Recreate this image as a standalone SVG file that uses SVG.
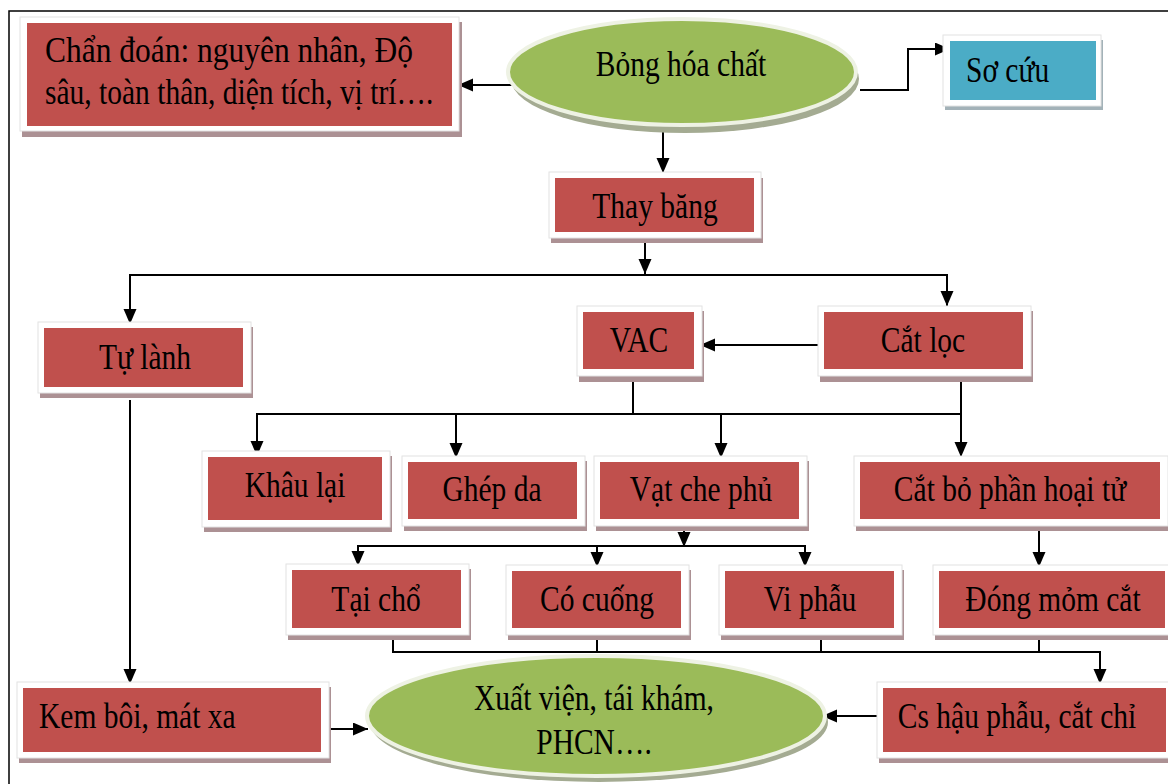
<svg xmlns="http://www.w3.org/2000/svg" width="1168" height="784" viewBox="0 0 1168 784">
<style>
.t{font-family:"Liberation Serif","Times New Roman",serif;font-size:29.5px;fill:#000}
.c{text-anchor:middle}
.red{fill:#C0504D}
.blue{fill:#4BACC6}
.frm{fill:#ffffff;stroke:#e2e2e2;stroke-width:1}
.sh{fill:#ac9194}
.shb{fill:#a3b2b8}
.grn{fill:#9BBB59;stroke:#eef2e4;stroke-width:4}
.gsh{fill:#a4ab92}
.ln{fill:none;stroke:#000;stroke-width:2}
</style>
<defs>
<marker id="ah" markerUnits="userSpaceOnUse" markerWidth="16" markerHeight="14" refX="15" refY="6.5" orient="auto-start-reverse">
<path d="M0,0 L15,6.5 L0,13 z" fill="#000"/>
</marker>
</defs>
<rect x="0" y="0" width="1168" height="784" fill="#ffffff"/>
<path d="M9,784 V11 H1168" fill="none" stroke="#000" stroke-width="1.5"/>

<g id="connectors">
<path class="ln" d="M515,85 H458" marker-end="url(#ah)"/>
<path class="ln" d="M860,90 H908 V49 H950" stroke-width="3" marker-end="url(#ah)"/>
<path class="ln" d="M663,130 V173" marker-end="url(#ah)"/>
<path class="ln" d="M645,243 V274" marker-end="url(#ah)"/>
<path class="ln" d="M130,324 V275 H947 V306" marker-start="url(#ah)" marker-end="url(#ah)"/>
<path class="ln" d="M822,345 H700" marker-end="url(#ah)"/>
<path class="ln" d="M633,380 V414"/>
<path class="ln" d="M257,456 V414 H961"/>
<path class="ln" d="M961,380 V457" marker-end="url(#ah)"/>
<path class="ln" d="M257,414 V456" marker-end="url(#ah)"/>
<path class="ln" d="M456,414 V458" marker-end="url(#ah)"/>
<path class="ln" d="M721,414 V458" marker-end="url(#ah)"/>
<path class="ln" d="M684,525 V547" marker-end="url(#ah)"/>
<path class="ln" d="M358,566 V546 H805 V567" marker-start="url(#ah)" marker-end="url(#ah)"/>
<path class="ln" d="M597,546 V567" marker-end="url(#ah)"/>
<path class="ln" d="M1039,526 V567" marker-end="url(#ah)"/>
<path class="ln" d="M393,632 V652 H1100 V684" marker-end="url(#ah)"/>
<path class="ln" d="M597,632 V652"/>
<path class="ln" d="M821,632 V652"/>
<path class="ln" d="M1039,632 V652"/>
<path class="ln" d="M130,400 V684" marker-end="url(#ah)"/>
<path class="ln" d="M323,729 H368" marker-end="url(#ah)"/>
<path class="ln" d="M880,716 H822" marker-end="url(#ah)"/>
</g>

<g id="chan_doan">
<rect class="sh" x="22" y="22" width="440" height="115"/>
<rect class="frm" x="20" y="17" width="439" height="114"/>
<rect class="red" x="27" y="23" width="425" height="103"/>
<text class="t" textLength="368" lengthAdjust="spacingAndGlyphs" transform="translate(45,62) scale(1,1.2)">Chẩn đoán: nguyên nhân, Độ</text>
<text class="t" transform="translate(45,104) scale(1,1.2)">sâu, toàn thân, diện tích, vị trí….</text>
</g>

<g id="bong_hoa_chat">
<ellipse class="gsh" cx="685" cy="79" rx="174" ry="54"/>
<ellipse class="grn" cx="682" cy="72" rx="174" ry="53"/>
<text class="t c" transform="translate(681,76) scale(1,1.2)">Bỏng hóa chất</text>
</g>

<g id="so_cuu">
<rect class="shb" x="945" y="40" width="158" height="70"/>
<rect class="frm" x="943" y="35" width="158" height="71"/>
<rect class="blue" x="950" y="41" width="146" height="59"/>
<text class="t" transform="translate(966,82) scale(1,1.2)">Sơ cứu</text>
</g>

<g id="thay_bang">
<rect class="sh" x="551" y="178" width="212" height="65"/>
<rect class="frm" x="549" y="172" width="212" height="66"/>
<rect class="red" x="555" y="178" width="199" height="54"/>
<text class="t c" transform="translate(655,218) scale(1,1.2)">Thay băng</text>
</g>

<g id="tu_lanh">
<rect class="sh" x="40" y="327" width="213" height="71"/>
<rect class="frm" x="38" y="322" width="213" height="71"/>
<rect class="red" x="44" y="328" width="199" height="59"/>
<text class="t c" transform="translate(145,369) scale(1,1.2)">Tự lành</text>
</g>

<g id="vac">
<rect class="sh" x="579" y="311" width="125" height="71"/>
<rect class="frm" x="577" y="306" width="125" height="70"/>
<rect class="red" x="583" y="312" width="111" height="57"/>
<text class="t c" transform="translate(639,352) scale(1,1.2)">VAC</text>
</g>

<g id="cat_loc">
<rect class="sh" x="820" y="311" width="213" height="71"/>
<rect class="frm" x="818" y="306" width="213" height="70"/>
<rect class="red" x="824" y="312" width="199" height="57"/>
<text class="t c" transform="translate(923,352) scale(1,1.2)">Cắt lọc</text>
</g>

<g id="khau_lai">
<rect class="sh" x="204" y="456" width="188" height="76"/>
<rect class="frm" x="202" y="451" width="188" height="76"/>
<rect class="red" x="208" y="457" width="174" height="63"/>
<text class="t c" transform="translate(295,497) scale(1,1.2)">Khâu lại</text>
</g>

<g id="ghep_da">
<rect class="sh" x="404" y="461" width="183" height="70"/>
<rect class="frm" x="402" y="456" width="183" height="70"/>
<rect class="red" x="408" y="462" width="169" height="57"/>
<text class="t c" transform="translate(492,501) scale(1,1.2)">Ghép da</text>
</g>

<g id="vat_che_phu">
<rect class="sh" x="596" y="461" width="213" height="70"/>
<rect class="frm" x="594" y="456" width="213" height="70"/>
<rect class="red" x="600" y="462" width="199" height="57"/>
<text class="t c" transform="translate(701,501) scale(1,1.2)">Vạt che phủ</text>
</g>

<g id="cat_bo_phan_hoai_tu">
<rect class="sh" x="856" y="461" width="314" height="70"/>
<rect class="frm" x="854" y="456" width="314" height="70"/>
<rect class="red" x="860" y="462" width="300" height="57"/>
<text class="t c" transform="translate(1010,501) scale(1,1.2)">Cắt bỏ phần hoại tử</text>
</g>

<g id="tai_cho">
<rect class="sh" x="288" y="569" width="183" height="71"/>
<rect class="frm" x="286" y="564" width="183" height="71"/>
<rect class="red" x="292" y="570" width="169" height="58"/>
<text class="t c" transform="translate(376,611) scale(1,1.2)">Tại chổ</text>
</g>

<g id="co_cuong">
<rect class="sh" x="508" y="570" width="183" height="70"/>
<rect class="frm" x="506" y="565" width="183" height="70"/>
<rect class="red" x="512" y="571" width="169" height="57"/>
<text class="t c" transform="translate(597,611) scale(1,1.2)">Có cuống</text>
</g>

<g id="vi_phau">
<rect class="sh" x="721" y="570" width="183" height="70"/>
<rect class="frm" x="719" y="565" width="183" height="70"/>
<rect class="red" x="725" y="571" width="169" height="57"/>
<text class="t c" transform="translate(810,611) scale(1,1.2)">Vi phẫu</text>
</g>

<g id="dong_mom_cat">
<rect class="sh" x="935" y="570" width="240" height="70"/>
<rect class="frm" x="933" y="565" width="240" height="70"/>
<rect class="red" x="939" y="571" width="226" height="57"/>
<text class="t c" transform="translate(1053,611) scale(1,1.2)">Đóng mỏm cắt</text>
</g>

<g id="kem_boi">
<rect class="sh" x="19" y="687" width="312" height="76"/>
<rect class="frm" x="17" y="682" width="312" height="76"/>
<rect class="red" x="23" y="688" width="298" height="64"/>
<text class="t" transform="translate(39,728) scale(1,1.2)">Kem bôi, mát xa</text>
</g>

<g id="xuat_vien">
<ellipse class="gsh" cx="599" cy="722" rx="229" ry="60"/>
<ellipse class="grn" cx="596" cy="716" rx="229" ry="60"/>
<text class="t c" transform="translate(594,710) scale(1,1.2)">Xuất viện, tái khám,</text>
<text class="t c" transform="translate(594,754) scale(1,1.2)">PHCN….</text>
</g>

<g id="cs_hau_phau">
<rect class="sh" x="879" y="687" width="296" height="76"/>
<rect class="frm" x="877" y="682" width="296" height="76"/>
<rect class="red" x="883" y="688" width="283" height="64"/>
<text class="t c" transform="translate(1017,728) scale(1,1.2)">Cs hậu phẫu, cắt chỉ</text>
</g>
</svg>
